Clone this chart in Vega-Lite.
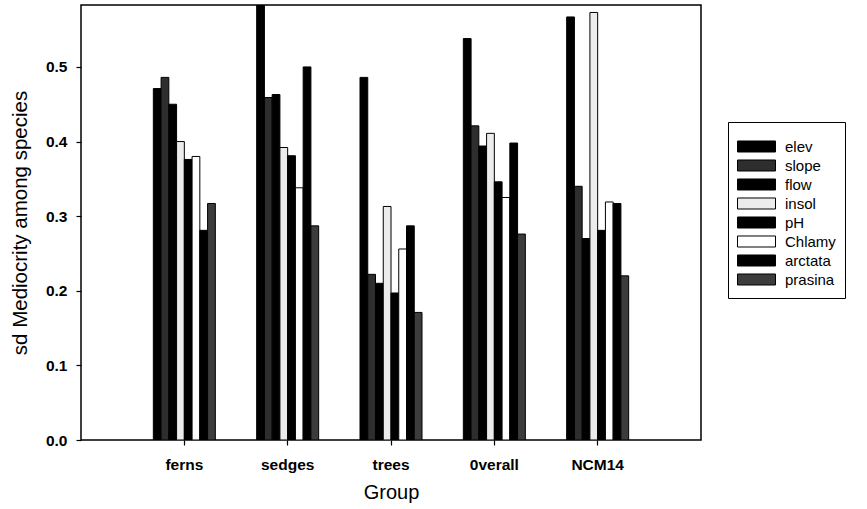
{
  "$schema": "https://vega.github.io/schema/vega-lite/v6.json",
  "width": 620,
  "height": 435,
  "autosize": {"type": "none"},
  "padding": {"left": 81, "top": 5, "right": 166, "bottom": 69},
  "background": "white",
  "config": {
    "font": "Liberation Sans",
    "view": {"stroke": "black", "strokeWidth": 1.5},
    "axis": {"grid": false, "domainColor": "black", "tickColor": "black", "labelColor": "black", "titleColor": "black", "tickWidth": 1.2}
  },
  "data": {
    "values": [
      {"group": "ferns", "var": "elev", "v": 0.471},
      {"group": "ferns", "var": "slope", "v": 0.486},
      {"group": "ferns", "var": "flow", "v": 0.450},
      {"group": "ferns", "var": "insol", "v": 0.400},
      {"group": "ferns", "var": "pH", "v": 0.376},
      {"group": "ferns", "var": "Chlamy", "v": 0.380},
      {"group": "ferns", "var": "arctata", "v": 0.281},
      {"group": "ferns", "var": "prasina", "v": 0.317},
      {"group": "sedges", "var": "elev", "v": 0.600},
      {"group": "sedges", "var": "slope", "v": 0.459},
      {"group": "sedges", "var": "flow", "v": 0.463},
      {"group": "sedges", "var": "insol", "v": 0.392},
      {"group": "sedges", "var": "pH", "v": 0.381},
      {"group": "sedges", "var": "Chlamy", "v": 0.338},
      {"group": "sedges", "var": "arctata", "v": 0.500},
      {"group": "sedges", "var": "prasina", "v": 0.287},
      {"group": "trees", "var": "elev", "v": 0.486},
      {"group": "trees", "var": "slope", "v": 0.222},
      {"group": "trees", "var": "flow", "v": 0.210},
      {"group": "trees", "var": "insol", "v": 0.313},
      {"group": "trees", "var": "pH", "v": 0.197},
      {"group": "trees", "var": "Chlamy", "v": 0.256},
      {"group": "trees", "var": "arctata", "v": 0.287},
      {"group": "trees", "var": "prasina", "v": 0.171},
      {"group": "0verall", "var": "elev", "v": 0.538},
      {"group": "0verall", "var": "slope", "v": 0.421},
      {"group": "0verall", "var": "flow", "v": 0.394},
      {"group": "0verall", "var": "insol", "v": 0.411},
      {"group": "0verall", "var": "pH", "v": 0.346},
      {"group": "0verall", "var": "Chlamy", "v": 0.325},
      {"group": "0verall", "var": "arctata", "v": 0.398},
      {"group": "0verall", "var": "prasina", "v": 0.276},
      {"group": "NCM14", "var": "elev", "v": 0.567},
      {"group": "NCM14", "var": "slope", "v": 0.340},
      {"group": "NCM14", "var": "flow", "v": 0.270},
      {"group": "NCM14", "var": "insol", "v": 0.573},
      {"group": "NCM14", "var": "pH", "v": 0.281},
      {"group": "NCM14", "var": "Chlamy", "v": 0.319},
      {"group": "NCM14", "var": "arctata", "v": 0.317},
      {"group": "NCM14", "var": "prasina", "v": 0.220}
    ]
  },
  "mark": {"type": "bar", "stroke": "black", "strokeWidth": 1, "clip": true},
  "encoding": {
    "x": {
      "field": "group", "type": "nominal",
      "sort": ["ferns", "sedges", "trees", "0verall", "NCM14"],
      "scale": {"paddingInner": 0.4, "paddingOuter": 0.7},
      "axis": {"title": "Group", "titleFontSize": 20, "titleFontWeight": "normal", "titlePadding": 10,
               "labelAngle": 0, "labelFontSize": 15.5, "labelFontWeight": "bold", "labelPadding": 12,
               "tickSize": 5, "domain": false}
    },
    "xOffset": {
      "field": "var", "type": "nominal",
      "sort": ["elev", "slope", "flow", "insol", "pH", "Chlamy", "arctata", "prasina"],
      "scale": {"paddingInner": 0, "paddingOuter": 0}
    },
    "y": {
      "field": "v", "type": "quantitative",
      "scale": {"domain": [0, 0.583], "nice": false, "zero": true},
      "axis": {"title": "sd Mediocrity among species", "titleFontSize": 20.5, "titleFontWeight": "normal", "titlePadding": 15,
               "values": [0, 0.1, 0.2, 0.3, 0.4, 0.5], "format": ".1f",
               "labelFontSize": 15.5, "labelFontWeight": "bold", "labelPadding": 9, "tickSize": 5, "domain": false}
    },
    "fill": {
      "field": "var", "type": "nominal",
      "sort": ["elev", "slope", "flow", "insol", "pH", "Chlamy", "arctata", "prasina"],
      "scale": {
        "domain": ["elev", "slope", "flow", "insol", "pH", "Chlamy", "arctata", "prasina"],
        "range": ["#000000", "#2e2e2e", "#000000", "#ececec", "#000000", "#ffffff", "#000000", "#3c3c3c"]
      },
      "legend": {
        "title": " ", "titleFontSize": 6, "titlePadding": 0,
        "orient": "none", "legendX": 647, "legendY": 117,
        "strokeColor": "black", "padding": 9, "fillColor": "white",
        "symbolType": "M-1,-0.29L1,-0.29L1,0.29L-1,0.29Z", "symbolSize": 1444,
        "symbolStrokeColor": "black", "symbolStrokeWidth": 1, "symbolOpacity": 1,
        "clipHeight": 19, "rowPadding": 0,
        "labelFontSize": 15, "labelFontWeight": "normal", "labelColor": "black", "labelOffset": 9
      }
    }
  }
}
